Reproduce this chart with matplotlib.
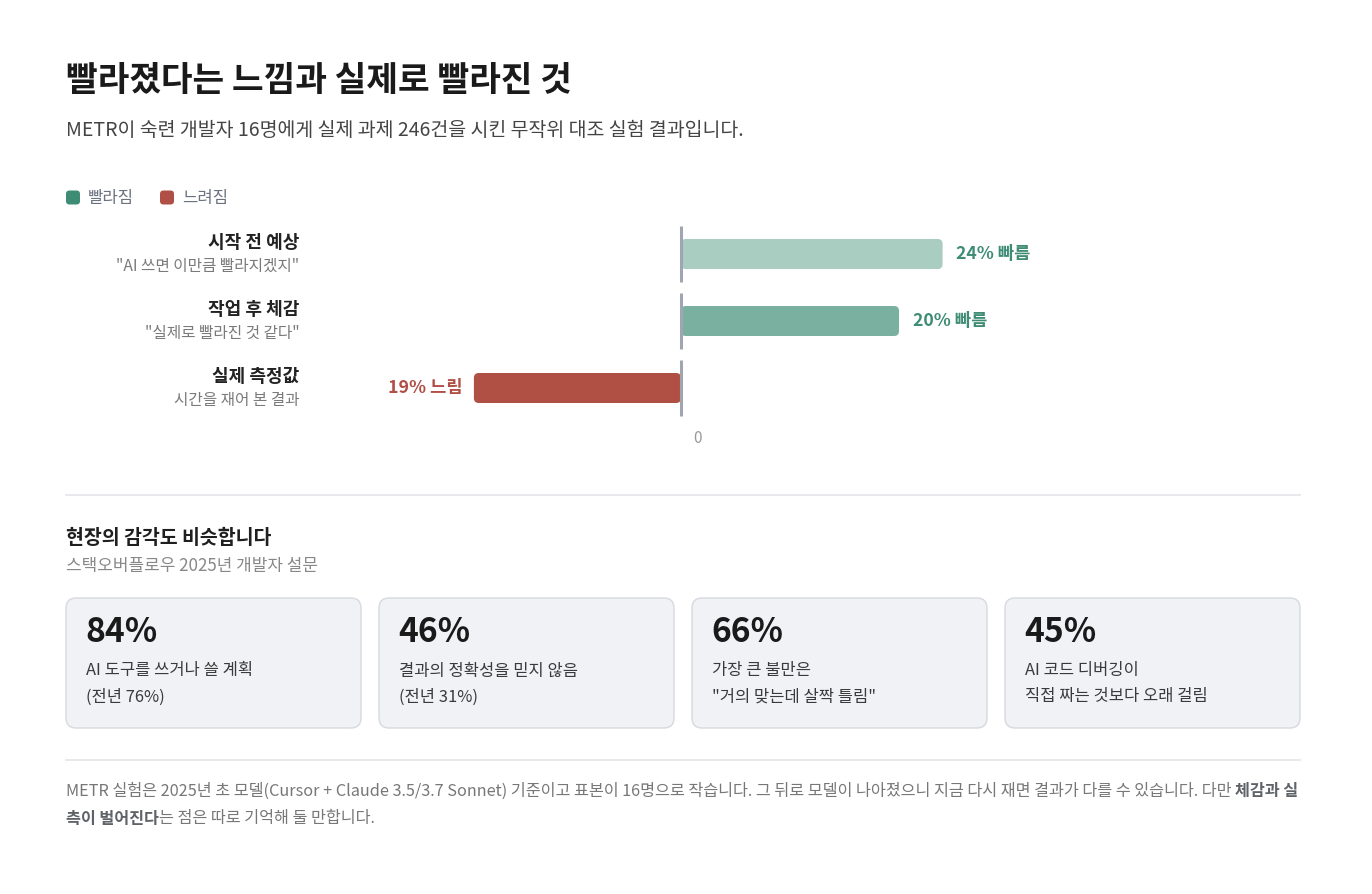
import matplotlib
matplotlib.use("Agg")
import matplotlib.pyplot as plt
from matplotlib.patches import FancyBboxPatch

plt.rcParams['font.family'] = ['Noto Sans CJK KR', 'DejaVu Sans']

W, H = 1372, 894

# --- data ---
rows = ["시작 전 예상", "작업 후 체감", "실제 측정값"]
row_notes = ['"AI 쓰면 이만큼 빨라지겠지"', '"실제로 빨라진 것 같다"', "시간을 재어 본 결과"]
values = [24, 20, -19]
value_labels = ["24% 빠름", "20% 빠름", "19% 느림"]
bar_colors = ["#a9cdc1", "#7ab09f", "#b05045"]

card_numbers = ["84%", "46%", "66%", "45%"]
card_lines = [
    ["AI 도구를 쓰거나 쓸 계획", "(전년 76%)"],
    ["결과의 정확성을 믿지 않음", "(전년 31%)"],
    ["가장 큰 불만은", '"거의 맞는데 살짝 틀림"'],
    ["AI 코드 디버깅이", "직접 짜는 것보다 오래 걸림"],
]

GREEN = "#3f8c74"
RED = "#b04f45"

fig = plt.figure(figsize=(W / 100, H / 100), dpi=100)
fig.patch.set_facecolor("white")

# background axes in pixel coordinates
bg = fig.add_axes([0, 0, 1, 1])
bg.set_xlim(0, W)
bg.set_ylim(H, 0)
bg.axis("off")

bg.text(66, 81, "빨라졌다는 느낌과 실제로 빨라진 것", fontsize=24.8, fontweight="bold",
        color="#1a1a1a", va="center", ha="left")
bg.text(66, 131, "METR이 숙련 개발자 16명에게 실제 과제 246건을 시킨 무작위 대조 실험 결과입니다.",
        fontsize=14, color="#444444", va="center", ha="left")

# legend
for x0, c, lab in [(66, GREEN, "빨라짐"), (160, RED, "느려짐")]:
    bg.add_patch(FancyBboxPatch((x0, 190.5), 14, 14, boxstyle="round,pad=0,rounding_size=3.5",
                                facecolor=c, edgecolor="none"))
    bg.text(x0 + 22, 198, lab, fontsize=12, color="#6b7280", va="center", ha="left")

# separators
bg.plot([66, 1300], [495, 495], color="#e3e5e9", lw=1.2)
bg.plot([66, 1300], [760, 760], color="#e3e5e9", lw=1.2)

# section
bg.text(66, 538, "현장의 감각도 비슷합니다", fontsize=14, fontweight="bold", color="#1f1f1f",
        va="center", ha="left")
bg.text(66, 566, "스택오버플로우 2025년 개발자 설문", fontsize=12.2, color="#888888",
        va="center", ha="left")

# cards
card_w, card_gap = 295, 18
for i, (num, lines) in enumerate(zip(card_numbers, card_lines)):
    x0 = 66 + i * (card_w + card_gap)
    bg.add_patch(FancyBboxPatch((x0, 598), card_w, 130, boxstyle="round,pad=0,rounding_size=10",
                                facecolor="#f1f2f6", edgecolor="#d6d9df", lw=1))
    bg.text(x0 + 19, 633, num, fontsize=24.2, fontweight="bold", color="#1a1a1a",
            va="center", ha="left")
    for j, ln in enumerate(lines):
        bg.text(x0 + 20, 671 + j * 26, ln, fontsize=11.9, color="#3a3a3a", va="center", ha="left")

# footer with bold pieces
renderer = fig.canvas.get_renderer()


def run_text(x, y, parts):
    for txt, bold in parts:
        t = bg.text(x, y, txt, fontsize=11.7, va="center", ha="left",
                    color="#5f6368" if bold else "#777777",
                    fontweight="bold" if bold else "normal")
        bb = t.get_window_extent(renderer)
        x += bb.width * W / fig.bbox.width


run_text(66, 791, [("METR 실험은 2025년 초 모델(Cursor + Claude 3.5/3.7 Sonnet) 기준이고 표본이 16명으로 작습니다. "
                    "그 뒤로 모델이 나아졌으니 지금 다시 재면 결과가 다를 수 있습니다. 다만 ", False),
                   ("체감과 실", True)])
run_text(66, 819, [("측이 벌어진다", True), ("는 점은 따로 기억해 둘 만합니다.", False)])

# bar chart axes
px_per = 10.9
zero_px = 681
left_px, right_px = 330, 1300
top_px, bot_px = 220.5, 421.5
ax = fig.add_axes([left_px / W, 1 - bot_px / H, (right_px - left_px) / W, (bot_px - top_px) / H])
ax.set_xlim(-(zero_px - left_px) / px_per, (right_px - zero_px) / px_per)
ax.set_ylim(2.5, -0.5)
ax.patch.set_alpha(0)
ax.axis("off")

bar_h = 30 / 67
aspect = (1 / 67) / (1 / px_per)
for i, (v, c) in enumerate(zip(values, bar_colors)):
    x0 = min(0, v)
    ax.add_patch(FancyBboxPatch((x0, i - bar_h / 2), abs(v), bar_h,
                                boxstyle="round,pad=0,rounding_size=0.45",
                                mutation_aspect=aspect, facecolor=c, edgecolor="none"))
    ax.vlines(0, i - 0.42, i + 0.42, color="#a0a6b0", lw=2.2, zorder=3)
    lab_c = GREEN if v > 0 else RED
    ax.annotate(value_labels[i], xy=(v, i), xytext=(10 if v > 0 else -8, 0),
                textcoords="offset points", ha="left" if v > 0 else "right", va="center",
                fontsize=12.7, fontweight="bold", color=lab_c)
    ax.annotate(rows[i], xy=(0, i), xycoords=("axes fraction", "data"), xytext=(-22, 8.5),
                textcoords="offset points", ha="right", va="center", fontsize=13,
                fontweight="bold", color="#222222", annotation_clip=False)
    ax.annotate(row_notes[i], xy=(0, i), xycoords=("axes fraction", "data"), xytext=(-22, -9),
                textcoords="offset points", ha="right", va="center", fontsize=11.3,
                color="#7a7a7a", annotation_clip=False)

ax.annotate("0", xy=(0, 2.5), xytext=(12, -12), textcoords="offset points", ha="center",
            va="center", fontsize=11, color="#9a9a9a", annotation_clip=False)

fig.savefig("out.png", dpi=100, facecolor="white")
